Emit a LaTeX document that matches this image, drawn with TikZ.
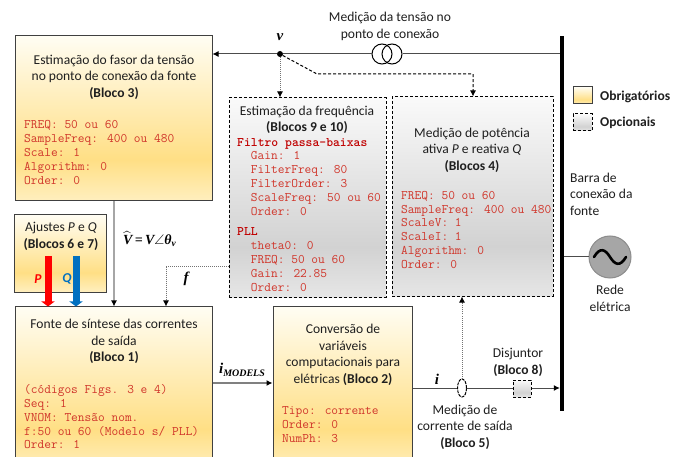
\documentclass[tikz,border=0pt]{standalone}
\usepackage{amsmath,amssymb}
\usepackage{fontspec}
\setmainfont{Carlito}
\newfontfamily\symfont{Liberation Serif}
\usetikzlibrary{arrows.meta,calc,shapes.geometric}
\definecolor{codered}{HTML}{D0352A}
\definecolor{codedark}{HTML}{C00000}
\definecolor{txt}{HTML}{1F1F1F}
\definecolor{qblue}{HTML}{0070C0}
\definecolor{ya}{HTML}{FFFDF3}\definecolor{yb}{HTML}{FFDF85}\definecolor{yc}{HTML}{FFEFBF}
\definecolor{ga}{HTML}{FAFAFA}\definecolor{gb}{HTML}{D2D2D2}\definecolor{gc}{HTML}{E6E6E6}
\pgfdeclareverticalshading{yshade}{100bp}{color(0bp)=(yc);color(25bp)=(yc);color(37.5bp)=(yb);color(75bp)=(ya);color(100bp)=(ya)}
\pgfdeclareverticalshading{gshade}{100bp}{color(0bp)=(gc);color(25bp)=(gc);color(37.5bp)=(gb);color(75bp)=(ga);color(100bp)=(ga)}
\newcommand{\codeind}{\hspace*{13.75bp}}
\tikzset{
  reqbox/.style={draw=black!75,line width=1bp,shade,shading=yshade,inner sep=0pt},
  optbox/.style={draw=black,line width=1bp,dash pattern=on 3bp off 2bp,shade,shading=gshade,inner sep=0pt},
  title/.style={inner sep=0pt,align=center,text=txt,font=\fontsize{13.6}{16.7}\selectfont},
  titleleft/.style={inner sep=0pt,align=left,text=txt,font=\fontsize{13.6}{16.7}\selectfont},
  code/.style={inner sep=0pt,align=left,anchor=north west,text=codered,font=\ttfamily\fontsize{13.1}{13.85}\selectfont},
  wire/.style={draw=black!70,line width=1bp},
  feed/.style={draw=black!35,line width=1.5bp,-{Latex[length=6bp,width=6bp,black]}},
  probe/.style={draw=black!55,line width=1bp,dash pattern=on 1bp off 1bp},
  tip/.style={-{Latex[length=6bp,width=6bp,black]}},
  power/.style={line width=7bp,-{Triangle[length=5bp,width=13bp]}},
  mlabel/.style={inner sep=0pt,text=black,font=\symfont\bfseries\itshape\fontsize{15}{17}\selectfont}
}
\begin{document}
\begin{tikzpicture}[x=1bp,y=-1bp]
\clip (0,0) rectangle (686,457);
\fill[white] (0,0) rectangle (686,457);
% boxes
\node[reqbox,minimum width=196bp,minimum height=165bp] (b3) at (114,118.5) {};
\node[reqbox,minimum width=91bp,minimum height=77bp] (aj) at (60.5,253.5) {};
\node[reqbox,minimum width=196bp,minimum height=163bp] (b1) at (114,388.5) {};
\node[reqbox,minimum width=139bp,minimum height=163bp] (b2) at (342.5,388.5) {};
\node[optbox,minimum width=157bp,minimum height=199bp] (b9) at (307.5,197.5) {};
\node[optbox,minimum width=161bp,minimum height=199bp] (b4) at (472.5,196.5) {};
\node[fill=black,inner sep=0pt,minimum width=4bp,minimum height=375bp] (bus) at (562,223.5) {};
% legend
\node[reqbox,minimum width=19bp,minimum height=17bp] (lega) at (582.5,95.5) {};
\node[optbox,minimum width=19bp,minimum height=17bp] (legb) at (582.5,122.5) {};
\node[titleleft,anchor=west,font=\fontsize{13.6}{16.7}\selectfont\bfseries] (lta) at (600,97) {Obrigatórios};
\node[titleleft,anchor=west,font=\fontsize{13.6}{16.7}\selectfont\bfseries] (ltb) at (600,123) {Opcionais};
% top measurement
\node[circle,fill=black,inner sep=0pt,minimum size=6bp] (v) at (280,54) {};
\node[circle,draw=black,line width=1bp,fill=white,inner sep=0pt,minimum size=20bp] (cta) at (382,54) {};
\node[circle,draw=black,line width=1bp,inner sep=0pt,minimum size=20bp] (ctb) at (392,54) {};
\coordinate (kink) at (317,74);
\coordinate (kinkb) at (473,74);
\draw[wire] (bus.west |- ctb) -- (ctb.east);
\draw[wire] (cta.west) -- (v);
\draw[wire,tip] (v) -- (v -| b3.east);
\draw[probe,tip] (v) -- (v |- b9.north);
\draw[draw=black,line width=1bp,dash pattern=on 3bp off 2bp,tip] (v) -- (kink) -- (kinkb) -- (kinkb |- b4.north);
\node[mlabel] (lv) at (280,37) {v};
\node[title] (lct) at (390,26.5) {Medição da tensão no\\ponto de conexão};
% block 3 to block 1
\draw[feed] (b3.south) -- (b1.north);
\coordinate (fcorner) at (166,267);
\draw[probe,tip] (b9.west |- fcorner) -- (fcorner) -- (fcorner |- b1.north);
\node[mlabel] (lf) at (186,279) {f};
\node[mlabel,anchor=west,font=\symfont\bfseries\itshape\fontsize{14}{17}\selectfont] (lvh) at (123,239) {$\widehat{\mbox{V}}$\,=\,V$\boldsymbol{\angle}$θ\raisebox{-2.5bp}{\fontsize{9.5}{12}\selectfont v}};
% P and Q
\coordinate (ps) at (48,256);
\coordinate (qs) at (76,256);
\draw[power,draw=red,fill=red] (ps) -- (ps |- b1.north);
\draw[power,draw=qblue,fill=qblue] (qs) -- (qs |- b1.north);
\node[inner sep=0pt,text=red,font=\fontsize{13.6}{16}\selectfont\bfseries\itshape] (lp) at (38,279) {P};
\node[inner sep=0pt,text=qblue,font=\fontsize{13.6}{16}\selectfont\bfseries\itshape] (lq) at (67,279) {Q};
% i models
\coordinate (im) at (242,383);
\draw[draw=black!50,line width=1.5bp,-{Latex[length=6bp,width=6bp,black]}] (b1.east |- im) -- (b2.west |- im);
\node[mlabel] (lim) at (242,370) {i\raisebox{-2.5bp}{\fontsize{10}{12}\selectfont MODELS}};
% current measurement
\node[ellipse,draw=black,line width=1bp,fill=white,dash pattern=on 3bp off 1bp,inner sep=0pt,minimum width=9bp,minimum height=18bp] (ct5) at (462,388) {};
\node[optbox,minimum width=18bp,minimum height=17bp] (br) at (522,388.5) {};
\draw[wire] (b2.east |- ct5) -- (ct5.west);
\draw[wire] (ct5.east) -- (br.west |- ct5);
\draw[wire,tip] (br.east |- ct5) -- (bus.west |- ct5);
\draw[probe,tip] (ct5.north) -- (ct5.north |- b4.south);
\node[mlabel] (li) at (437,379) {i};
\node[title] (lbr) at (518,362.5) {Disjuntor\\\textbf{(Bloco 8)}};
\node[title] (l5) at (465,427) {Medição de\\corrente de saída\\\textbf{(Bloco 5)}};
% grid
\node[circle,draw=black!45,line width=1bp,fill=black!35,inner sep=0pt,minimum size=42bp] (grid) at (610,257) {};
\draw[wire] (bus.east |- grid) -- (grid.west);
\draw[line width=2.6bp,line cap=round,black] (594,257) .. controls (600,247) and (605,249) .. (610,257) .. controls (615,265) and (620,267) .. (626,257);
\node[titleleft,anchor=north west] (lbar) at (570,172.5) {Barra de\\conexão da\\fonte};
\node[title] (lrede) at (610,298.5) {Rede\\elétrica};
% texts in boxes
\node[title] (t3) at (114,77) {Estimação do fasor da tensão\\no ponto de conexão da fonte\\\textbf{(Bloco 3)}};
\node[code] (c3) at (24,120.5) {FREQ: 50 ou 60\\SampleFreq: 400 ou 480\\Scale: 1\\Algorithm: 0\\Order: 0};
\node[title] (taj) at (61,236.5) {Ajustes \textit{P} e \textit{Q}\\\textbf{(Blocos 6 e 7)}};
\node[title] (t1) at (114,341.5) {Fonte de síntese das correntes\\de saída\\\textbf{(Bloco 1)}};
\node[code] (c1) at (24,384.5) {(códigos Figs. 3 e 4)\\Seq: 1\\VNOM: Tensão nom.\\f:50 ou 60 (Modelo s/ PLL)\\Order: 1};
\node[title] (t2) at (343,355) {Conversão de\\variáveis\\computacionais para\\elétricas \textbf{(Bloco 2)}};
\node[code] (c2) at (282,406.5) {Tipo: corrente\\Order: 0\\NumPh: 3};
\node[title] (t9) at (307,120) {Estimação da frequência\\\textbf{(Blocos 9 e 10)}};
\node[code] (c9) at (237,138) {{\color{codedark}\bfseries Filtro passa-baixas}\\\codeind Gain: 1\\\codeind FilterFreq: 80\\\codeind FilterOrder: 3\\\codeind ScaleFreq: 50 ou 60\\\codeind Order: 0\\[7bp]{\color{codedark}\bfseries PLL}\\\codeind theta0: 0\\\codeind FREQ: 50 ou 60\\\codeind Gain: 22.85\\\codeind Order: 0};
\node[title] (t4) at (472,150) {Medição de potência\\ativa \textit{P} e reativa \textit{Q}\\\textbf{(Blocos 4)}};
\node[code] (c4) at (401,191) {FREQ: 50 ou 60\\SampleFreq: 400 ou 480\\ScaleV: 1\\ScaleI: 1\\Algorithm: 0\\Order: 0};
\end{tikzpicture}
\end{document}
